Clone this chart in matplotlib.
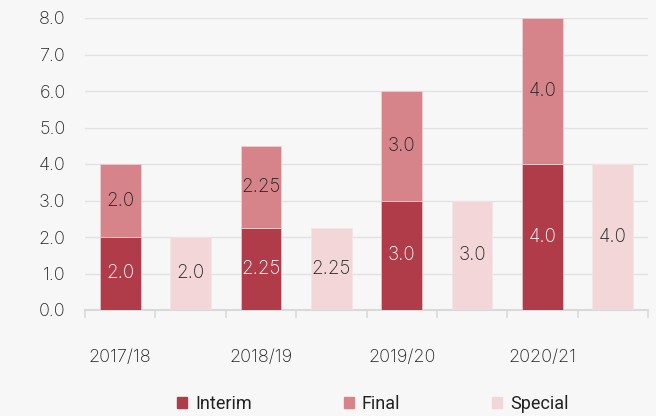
import matplotlib
matplotlib.use("Agg")
import matplotlib.pyplot as plt
from matplotlib.patches import Patch
import matplotlib.transforms as mtransforms

years = ["2017/18", "2018/19", "2019/20", "2020/21"]
interim = [2.0, 2.25, 3.0, 4.0]
final = [2.0, 2.25, 3.0, 4.0]
special = [2.0, 2.25, 3.0, 4.0]
interim_labels = ["2.0", "2.25", "3.0", "4.0"]
final_labels = ["2.0", "2.25", "3.0", "4.0"]
special_labels = ["2.0", "2.25", "3.0", "4.0"]
yticks = [0, 1, 2, 3, 4, 5, 6, 7, 8]

c_int = "#b03c4a"
c_fin = "#d6848a"
c_spe = "#f2d6d8"
bg = "#f7f7f7"

plt.rcParams['font.family'] = ['Inter', 'DejaVu Sans']

fig = plt.figure(figsize=(6.56, 4.16), dpi=100, facecolor=bg)
ax = fig.add_axes([85/656, (416-310)/416, (648-85)/656, (310-18)/416], facecolor=bg)

w = 0.58
xs_main = [2*i for i in range(len(years))]
xs_spec = [2*i+1 for i in range(len(years))]

ax.bar(xs_main, interim, width=w, color=c_int, edgecolor="#e8c9cc", linewidth=0.5, zorder=3)
ax.bar(xs_main, final, width=w, bottom=interim, color=c_fin, edgecolor="#eed3d6", linewidth=0.5, zorder=3)
ax.bar(xs_spec, special, width=w, color=c_spe, edgecolor="#f5e4e6", linewidth=0.5, zorder=3)

fs = 13.5
for x, v, l in zip(xs_main, interim, interim_labels):
    ax.text(x, v/2, l, ha="center", va="center", color="white", fontsize=fs, fontweight="light", zorder=4)
for x, b, v, l in zip(xs_main, interim, final, final_labels):
    ax.text(x, b + v/2, l, ha="center", va="center", color="#222222", fontsize=fs, fontweight="light", zorder=4)
for x, v, l in zip(xs_spec, special, special_labels):
    ax.text(x, v/2, l, ha="center", va="center", color="#222222", fontsize=fs, fontweight="light", zorder=4)

ax.set_xlim(-0.5, 7.5)
ax.set_ylim(0, 8)
ax.set_yticks(yticks)
ax.set_yticklabels([f"{t:.1f}" for t in yticks], fontsize=13, color="#222222", fontweight="light")
ax.yaxis.grid(True, color="#e2e2e2", linewidth=1, zorder=0)
ax.tick_params(axis="y", length=0, pad=14)

ax.set_xticks([i - 0.5 for i in range(9)])
ax.set_xticklabels([])
ax.tick_params(axis="x", length=6, color="#d9d9d9", width=1.2, direction="out")

for s in ["top", "right", "left"]:
    ax.spines[s].set_visible(False)
ax.spines["bottom"].set_color("#d9d9d9")
ax.spines["bottom"].set_linewidth(1.5)

trans = mtransforms.blended_transform_factory(ax.transData, ax.transAxes)
for x, y in zip(xs_main, years):
    ax.text(x, -48/292, y, transform=trans, ha="center", va="center", fontsize=13, color="#222222", fontweight="light")

handles = [Patch(color=c_int, label="Interim"), Patch(color=c_fin, label="Final"), Patch(color=c_spe, label="Special")]
fig.legend(handles=handles, loc="center", bbox_to_anchor=(373/656, 1 - 404/416), ncol=3, frameon=False,
           prop={"family": ["Roboto", "DejaVu Sans"], "size": 13},
           handlelength=0.55, handleheight=0.55, columnspacing=5.1, handletextpad=0.45,
           labelcolor="#222222")

fig.savefig("out.png", dpi=100, facecolor=bg)
